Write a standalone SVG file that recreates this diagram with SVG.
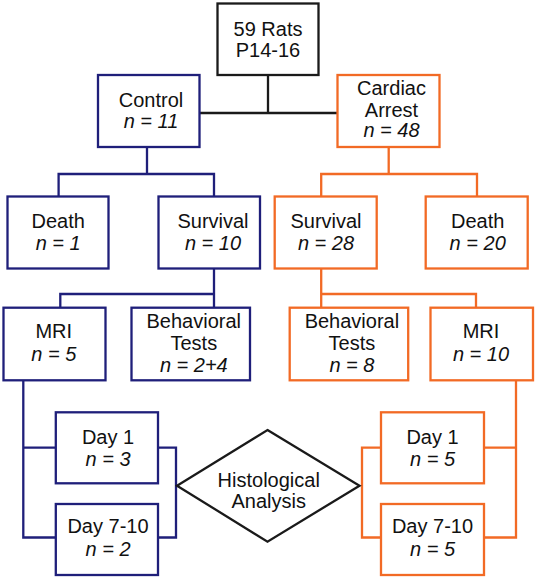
<svg xmlns="http://www.w3.org/2000/svg" width="536" height="579" viewBox="0 0 536 579">
<style>
  text { font-family: "Liberation Sans", Arial, sans-serif; font-size: 20px; fill: #111; text-anchor: middle; }
  .it { font-style: italic; }
  .box { fill: #fff; stroke-width: 2.3; }
  .k { stroke: #1a1a1a; }
  .b { stroke: #1f1f7a; }
  .o { stroke: #f26a25; }
  .ln { fill: none; stroke-width: 2.3; stroke-linejoin: miter; stroke-linecap: butt; }
</style>
<rect width="536" height="579" fill="#fff"/>
<g id="connectors">
  <path class="ln k" d="M268 75 V113 M199 113 H337.5"/>
  <path class="ln b" d="M147 147 V174 M58.6 196.5 V174 H214 V196.5"/>
  <path class="ln o" d="M388.7 147 V174 M321.2 196.5 V174 H477 V196.5"/>
  <path class="ln b" d="M214 268.5 V294 M60.3 307.7 V294 H214 V307.7"/>
  <path class="ln o" d="M321.2 268.5 V294 H476 V307.7 M321.2 294 V307.7"/>
  <path class="ln b" d="M23.3 380.3 V537.5 H55.8 M23.3 447.7 H55.8"/>
  <path class="ln b" d="M158 447.7 H176 V537.5 H158"/>
  <path class="ln o" d="M381 447.7 H362 V537.5 H381"/>
  <path class="ln o" d="M516 380.3 V537.5 H484 M516 447.7 H484"/>
</g>
<g id="rats">
  <rect class="box k" x="217.5" y="3.5" width="101" height="71.5"/>
  <text x="268" y="35.5">59 Rats</text>
  <text x="268" y="57">P14-16</text>
</g>
<g id="control">
  <rect class="box b" x="98" y="75" width="101.5" height="72"/>
  <text x="151" y="106.7">Control</text>
  <text x="151" y="128.3" class="it">n = 11</text>
</g>
<g id="cardiac-arrest">
  <rect class="box o" x="337.5" y="75" width="102" height="72"/>
  <text x="391.5" y="95">Cardiac</text>
  <text x="391.5" y="116.7">Arrest</text>
  <text x="391.5" y="137.3" class="it">n = 48</text>
</g>
<g id="control-death">
  <rect class="box b" x="7.5" y="196.5" width="101" height="72"/>
  <text x="58.2" y="228.3">Death</text>
  <text x="58.2" y="250" class="it">n = 1</text>
</g>
<g id="control-survival">
  <rect class="box b" x="158.5" y="196.5" width="101.5" height="72"/>
  <text x="213" y="228.3">Survival</text>
  <text x="213" y="250" class="it">n = 10</text>
</g>
<g id="ca-survival">
  <rect class="box o" x="274.7" y="196.5" width="102" height="72"/>
  <text x="326" y="228.3">Survival</text>
  <text x="326" y="250" class="it">n = 28</text>
</g>
<g id="ca-death">
  <rect class="box o" x="425.7" y="196.5" width="102" height="72"/>
  <text x="477.7" y="228.3">Death</text>
  <text x="477.7" y="250" class="it">n = 20</text>
</g>
<g id="control-mri">
  <rect class="box b" x="3.5" y="307.7" width="102" height="72.6"/>
  <text x="53.8" y="338.3">MRI</text>
  <text x="53.8" y="360.7" class="it">n = 5</text>
</g>
<g id="control-behavioral">
  <rect class="box b" x="131.5" y="307.7" width="118.5" height="72.6"/>
  <text x="193.8" y="328.3">Behavioral</text>
  <text x="193.8" y="350">Tests</text>
  <text x="193.8" y="371.7" class="it">n = 2+4</text>
</g>
<g id="ca-behavioral">
  <rect class="box o" x="289.7" y="307.7" width="118.5" height="72.6"/>
  <text x="351.9" y="328.3">Behavioral</text>
  <text x="351.9" y="350">Tests</text>
  <text x="351.9" y="371.7" class="it">n = 8</text>
</g>
<g id="ca-mri">
  <rect class="box o" x="430.5" y="307.7" width="102.5" height="72.6"/>
  <text x="481" y="338.3">MRI</text>
  <text x="481" y="360.7" class="it">n = 10</text>
</g>
<g id="control-day1">
  <rect class="box b" x="55.8" y="412.3" width="102.2" height="71"/>
  <text x="108" y="444">Day 1</text>
  <text x="108" y="465.7" class="it">n = 3</text>
</g>
<g id="control-day7-10">
  <rect class="box b" x="55.8" y="504" width="102.2" height="71"/>
  <text x="108" y="533.3">Day 7-10</text>
  <text x="108" y="555.7" class="it">n = 2</text>
</g>
<g id="ca-day1">
  <rect class="box o" x="381" y="412.3" width="103" height="71"/>
  <text x="432.5" y="444">Day 1</text>
  <text x="432.5" y="465.7" class="it">n = 5</text>
</g>
<g id="ca-day7-10">
  <rect class="box o" x="381" y="504" width="103" height="71"/>
  <text x="432.5" y="533.3">Day 7-10</text>
  <text x="432.5" y="555.7" class="it">n = 5</text>
</g>
<g id="histological">
  <polygon class="box k" points="267.5,430 359.5,485.7 267.5,541.7 177,485.7"/>
  <text x="268.7" y="486.7">Histological</text>
  <text x="268.7" y="507.5">Analysis</text>
</g>
</svg>
